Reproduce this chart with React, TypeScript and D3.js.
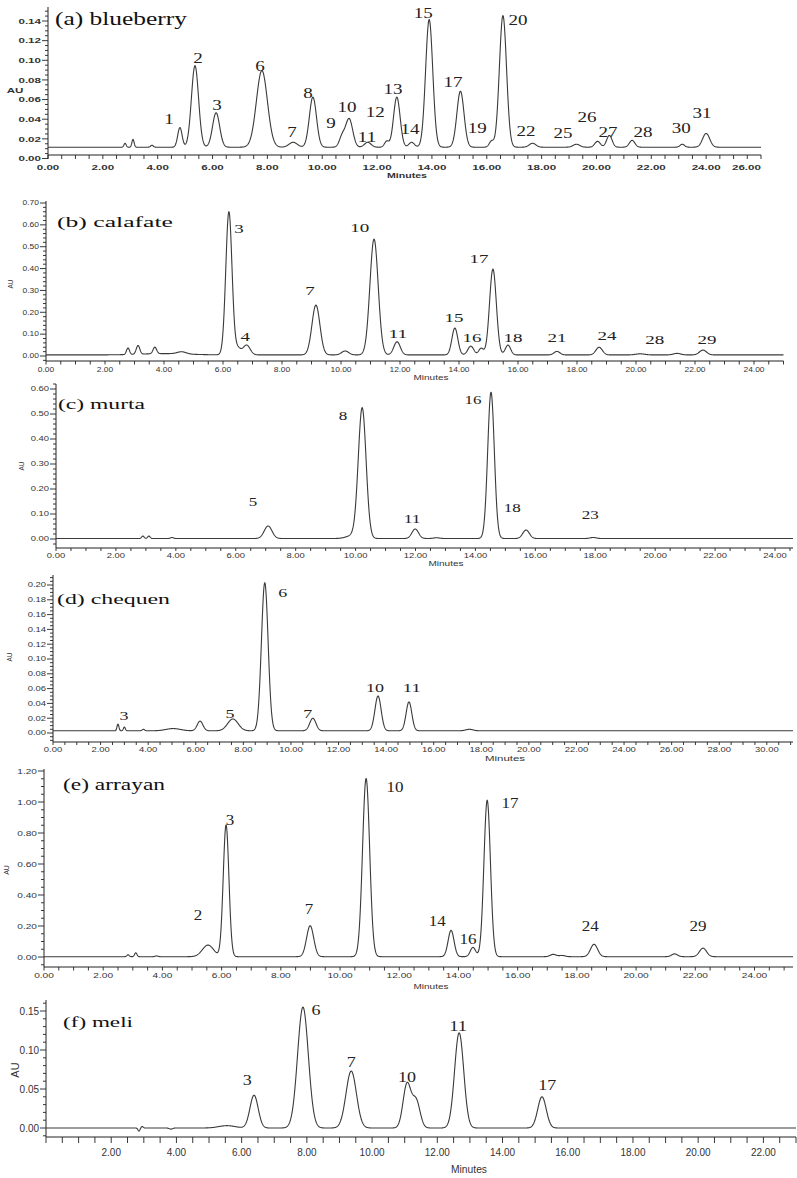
import * as d3 from 'd3';

// [retention time (min), height above baseline (AU), peak sigma (min)]
type Peak = [number, number, number];
// [peak number, time (min), AU]
type PeakLabel = [string, number, number];

// (a) blueberry
const blueberryPeaks: Peak[] = [
  [2.81, 0.004, 0.04], [3.1, 0.008, 0.04], [3.79, 0.002, 0.05],
  [4.81, 0.02, 0.08], [5.36, 0.083, 0.13], [6.13, 0.035, 0.13],
  [7.8, 0.078, 0.2], [8.94, 0.005, 0.15], [9.66, 0.051, 0.13],
  [10.72, 0.01, 0.1], [10.98, 0.029, 0.13], [11.66, 0.005, 0.12],
  [12.35, 0.006, 0.08], [12.72, 0.051, 0.12], [13.26, 0.005, 0.1],
  [13.9, 0.13, 0.13], [15.04, 0.057, 0.13], [16.17, 0.006, 0.08],
  [16.59, 0.134, 0.13], [17.67, 0.004, 0.12], [19.27, 0.003, 0.12],
  [20.04, 0.006, 0.1], [20.47, 0.012, 0.1], [21.3, 0.007, 0.1],
  [23.13, 0.003, 0.08], [24.0, 0.014, 0.13],
];
const blueberryLabels: PeakLabel[] = [
  ['1', 4.41, 0.04], ['2', 5.47, 0.102], ['3', 6.16, 0.054], ['6', 7.73, 0.094],
  ['7', 8.9, 0.027], ['8', 9.48, 0.067], ['9', 10.32, 0.036], ['10', 10.9, 0.052],
  ['11', 11.63, 0.022], ['12', 11.93, 0.047], ['13', 12.58, 0.071], ['14', 13.2, 0.03],
  ['15', 13.68, 0.148], ['17', 14.77, 0.078], ['19', 15.65, 0.031], ['20', 17.14, 0.141],
  ['22', 17.43, 0.028], ['25', 18.78, 0.026], ['26', 19.66, 0.042], ['27', 20.42, 0.027],
  ['28', 21.7, 0.027], ['30', 23.09, 0.031], ['31', 23.85, 0.046],
];

// (b) calafate
const calafatePeaks: Peak[] = [
  [2.78, 0.03, 0.05], [3.12, 0.04, 0.06], [3.69, 0.03, 0.06], [4.0, 0.006, 0.8],
  [4.6, 0.01, 0.15], [6.2, 0.655, 0.105], [6.5, 0.03, 0.1], [6.8, 0.045, 0.12],
  [9.15, 0.228, 0.135], [10.14, 0.018, 0.12], [11.12, 0.53, 0.14], [11.9, 0.06, 0.11],
  [13.86, 0.123, 0.1], [14.4, 0.04, 0.1], [14.75, 0.03, 0.08], [15.15, 0.393, 0.115],
  [15.66, 0.045, 0.09], [17.32, 0.016, 0.1], [18.75, 0.035, 0.11], [20.14, 0.005, 0.15],
  [21.39, 0.007, 0.12], [22.27, 0.022, 0.12],
];
const calafateLabels: PeakLabel[] = [
  ['3', 6.54, 0.581], ['4', 6.75, 0.087], ['7', 8.95, 0.297], ['10', 10.64, 0.586],
  ['11', 11.93, 0.101], ['15', 13.83, 0.174], ['16', 14.44, 0.082], ['17', 14.68, 0.444],
  ['18', 15.83, 0.082], ['21', 17.32, 0.082], ['24', 19.02, 0.091], ['28', 20.64, 0.073],
  ['29', 22.41, 0.073],
];

// (c) murta
const murtaPeaks: Peak[] = [
  [2.9, 0.01, 0.04], [3.1, 0.01, 0.04], [3.87, 0.004, 0.05], [7.08, 0.05, 0.13],
  [9.9, 0.012, 0.2], [10.22, 0.52, 0.13], [11.99, 0.038, 0.11], [12.7, 0.003, 0.1],
  [14.52, 0.585, 0.11], [15.69, 0.034, 0.11], [17.93, 0.004, 0.1],
];
const murtaLabels: PeakLabel[] = [
  ['5', 6.58, 0.148], ['8', 9.58, 0.492], ['11', 11.89, 0.08], ['16', 13.92, 0.556],
  ['18', 15.23, 0.124], ['23', 17.83, 0.096],
];

// (d) chequen
const chequenPeaks: Peak[] = [
  [2.73, 0.009, 0.04], [3.0, 0.005, 0.04], [3.8, 0.002, 0.05], [5.05, 0.003, 0.3],
  [6.18, 0.013, 0.12], [7.56, 0.016, 0.22], [8.9, 0.2, 0.14], [10.92, 0.017, 0.13],
  [13.66, 0.047, 0.13], [14.96, 0.039, 0.12], [17.5, 0.002, 0.15],
];
const chequenLabels: PeakLabel[] = [
  ['3', 2.98, 0.024], ['5', 7.44, 0.027], ['6', 9.66, 0.19], ['7', 10.71, 0.027],
  ['10', 13.53, 0.061], ['11', 15.08, 0.062],
];

// (e) arrayan
const arrayanPeaks: Peak[] = [
  [2.84, 0.012, 0.04], [3.1, 0.025, 0.04], [3.8, 0.005, 0.05], [5.54, 0.075, 0.19],
  [6.15, 0.85, 0.096], [8.99, 0.2, 0.12], [10.88, 1.15, 0.12], [13.75, 0.17, 0.1],
  [14.49, 0.06, 0.09], [14.97, 1.01, 0.11], [17.2, 0.015, 0.1], [17.5, 0.008, 0.1],
  [18.58, 0.08, 0.12], [21.3, 0.018, 0.1], [22.26, 0.055, 0.12],
];
const arrayanLabels: PeakLabel[] = [
  ['2', 5.2, 0.271], ['3', 6.28, 0.884], ['7', 8.95, 0.31], ['10', 11.86, 1.097],
  ['14', 13.28, 0.232], ['16', 14.32, 0.116], ['17', 15.74, 0.994], ['24', 18.45, 0.2],
  ['29', 22.09, 0.2],
];

// (f) meli
const meliPeaks: Peak[] = [
  [2.85, -0.004, 0.03], [2.95, 0.002, 0.03], [3.83, -0.0015, 0.05], [5.55, 0.003, 0.25],
  [6.38, 0.042, 0.126], [7.88, 0.155, 0.165], [9.36, 0.073, 0.16], [11.07, 0.056, 0.12],
  [11.35, 0.035, 0.12], [12.67, 0.122, 0.14], [15.21, 0.04, 0.13],
];
const meliLabels: PeakLabel[] = [
  ['3', 6.17, 0.062], ['6', 8.28, 0.151], ['7', 9.36, 0.085], ['10', 11.07, 0.065],
  ['11', 12.64, 0.131], ['17', 15.37, 0.055],
];

interface Panel {
  title: string;
  peaks: Peak[];
  labels: PeakLabel[];
  baseline: number;
  tMax: number;
  yMax: number;
  yStep: number;
  yMinor: number;
  firstX: number;
  left: number;
  right: number;
  yZero: number;
  yTopPx: number;
  axisTop: number;
  axisY: number;
  xTickLen: number;
  xLabelDy: number;
  tickFont: number;
  tickSx: number;
  tickBold: boolean;
  titleX: number;
  titleY: number;
  titleFont: number;
  titleLen: number;
  labelFont: number;
  digitW: number;
  au: [number, number, number, boolean];
  minutes: [number, number, number, number];
}

const panels: Panel[] = [
  {
    title: '(a) blueberry', peaks: blueberryPeaks, labels: blueberryLabels, baseline: 0.0115,
    tMax: 26, yMax: 0.14, yStep: 0.02, yMinor: 0.005, firstX: 0,
    left: 48, right: 761, yZero: 158.5, yTopPx: 21, axisTop: 7, axisY: 155, xTickLen: 4, xLabelDy: 12,
    tickFont: 8, tickSx: 1.45, tickBold: true,
    titleX: 55, titleY: 25, titleFont: 19, titleLen: 132, labelFont: 14, digitW: 9.5,
    au: [15, 90, 8, false], minutes: [407, 175, 7.5, 40],
  },
  {
    title: '(b) calafate', peaks: calafatePeaks, labels: calafateLabels, baseline: 0.005,
    tMax: 25, yMax: 0.7, yStep: 0.1, yMinor: 0.02, firstX: 0,
    left: 46, right: 783.5, yZero: 356, yTopPx: 203, axisTop: 201, axisY: 361, xTickLen: 3.5, xLabelDy: 9,
    tickFont: 6.5, tickSx: 1.3, tickBold: false,
    titleX: 57, titleY: 227, titleFont: 15.5, titleLen: 116, labelFont: 12.5, digitW: 9.5,
    au: [11, 284, 6.5, true], minutes: [431, 378, 6.5, 35],
  },
  {
    title: '(c) murta', peaks: murtaPeaks, labels: murtaLabels, baseline: 0.002,
    tMax: 24.6, yMax: 0.6, yStep: 0.1, yMinor: 0.02, firstX: 0,
    left: 56, right: 793, yZero: 539, yTopPx: 389, axisTop: 384, axisY: 548, xTickLen: 3, xLabelDy: 8,
    tickFont: 7, tickSx: 1.35, tickBold: false,
    titleX: 58, titleY: 409, titleFont: 15, titleLen: 87, labelFont: 12.5, digitW: 8.5,
    au: [22, 466, 6.5, true], minutes: [446, 564, 6.5, 35],
  },
  {
    title: '(d) chequen', peaks: chequenPeaks, labels: chequenLabels, baseline: 0.003,
    tMax: 31.1, yMax: 0.2, yStep: 0.02, yMinor: 0.005, firstX: 0,
    left: 53, right: 793, yZero: 733, yTopPx: 585, axisTop: 575, axisY: 742, xTickLen: 3, xLabelDy: 7.5,
    tickFont: 7, tickSx: 1.35, tickBold: false,
    titleX: 57, titleY: 604, titleFont: 15, titleLen: 113, labelFont: 13, digitW: 9,
    au: [10, 657, 6.5, true], minutes: [505, 759, 6.5, 40],
  },
  {
    title: '(e) arrayan', peaks: arrayanPeaks, labels: arrayanLabels, baseline: 0.002,
    tMax: 25.3, yMax: 1.2, yStep: 0.2, yMinor: 0.05, firstX: 0,
    left: 44, right: 793, yZero: 957, yTopPx: 771, axisTop: 769, axisY: 967, xTickLen: 3.5, xLabelDy: 8,
    tickFont: 7.5, tickSx: 1.35, tickBold: false,
    titleX: 63, titleY: 790, titleFont: 16, titleLen: 102, labelFont: 14.5, digitW: 8.5,
    au: [7, 870, 7, true], minutes: [431, 987, 6.5, 35],
  },
  {
    title: '(f) meli', peaks: meliPeaks, labels: meliLabels, baseline: 0,
    tMax: 23, yMax: 0.15, yStep: 0.05, yMinor: 0.01, firstX: 2,
    left: 46, right: 796, yZero: 1128, yTopPx: 1011, axisTop: 1000, axisY: 1137, xTickLen: 6, xLabelDy: 15,
    tickFont: 10.5, tickSx: 0.95, tickBold: false,
    titleX: 63, titleY: 1027, titleFont: 15, titleLen: 70, labelFont: 14, digitW: 9,
    au: [15, 1070, 11, true], minutes: [469, 1169, 11, 36],
  },
];

const INK = '#222';
const SANS = "'Liberation Sans', Arial, sans-serif";
const SERIF = "'Liberation Serif', 'Times New Roman', serif";
const fmt = d3.format('.2f');

function stepRange(lo: number, hi: number, step: number) {
  return d3
    .range(Math.ceil(lo / step - 1e-6), Math.floor(hi / step + 1e-6) + 1)
    .map((i) => i * step);
}

function Chromatogram({ p }: { p: Panel }) {
  const x = d3.scaleLinear().domain([0, p.tMax]).range([p.left, p.right]);
  const y = d3.scaleLinear().domain([0, p.yMax]).range([p.yZero, p.yTopPx]);

  const signal = (t: number) =>
    p.baseline +
    d3.sum(p.peaks, ([rt, h, s]) => h * Math.exp(-((t - rt) ** 2) / (2 * s * s)));
  const times = d3.range(0, p.tMax + 1e-9, 0.01);
  const line = d3
    .line<number>()
    .x((t) => x(t))
    .y((t) => y(signal(t)));

  const yLo = y.invert(Math.max(p.axisY, p.yZero));
  const yHi = y.invert(p.axisTop);
  const yTicks = stepRange(yLo, yHi, p.yMinor);
  const isMajorY = (v: number) => Math.abs(v / p.yStep - Math.round(v / p.yStep)) < 1e-6;

  const xTicks = stepRange(0, p.tMax, 0.5);
  const isMajorX = (t: number) => Math.abs(t / 2 - Math.round(t / 2)) < 1e-6;

  const weight = p.tickBold ? 'bold' : 'normal';

  return (
    <g>
      {/* axes */}
      <line x1={p.left} x2={p.left} y1={p.axisTop} y2={Math.max(p.axisY, p.yZero)} stroke={INK} strokeWidth={1} />
      <line x1={p.left} x2={p.right} y1={p.axisY} y2={p.axisY} stroke={INK} strokeWidth={1} />

      {yTicks.map((v, i) => {
        const major = isMajorY(v) && v >= -1e-9;
        const yy = y(v);
        return (
          <g key={'y' + i}>
            <line x1={p.left - (major ? 6 : 3)} x2={p.left} y1={yy} y2={yy} stroke={INK} strokeWidth={0.9} />
            {major && (
              <text
                transform={`translate(${p.left - 7},${yy}) scale(${p.tickSx},1)`}
                textAnchor="end"
                dy="0.35em"
                fontFamily={SANS}
                fontSize={p.tickFont}
                fontWeight={weight}
                fill="#333"
              >
                {fmt(Math.abs(v) < 1e-9 ? 0 : v)}
              </text>
            )}
          </g>
        );
      })}

      {xTicks.map((t, i) => {
        const major = isMajorX(t);
        const xx = x(t);
        const atEnd = x(p.tMax) - xx < 4;
        return (
          <g key={'x' + i}>
            <line x1={xx} x2={xx} y1={p.axisY} y2={p.axisY + p.xTickLen} stroke={INK} strokeWidth={0.9} />
            {major && t >= p.firstX && (
              <text
                transform={`translate(${atEnd ? p.right : xx},${p.axisY + p.xLabelDy}) scale(${p.tickSx},1)`}
                textAnchor={atEnd ? 'end' : 'middle'}
                dy="0.35em"
                fontFamily={SANS}
                fontSize={p.tickFont}
                fontWeight={weight}
                fill="#333"
              >
                {fmt(t)}
              </text>
            )}
          </g>
        );
      })}

      {/* trace */}
      <path d={line(times) ?? ''} fill="none" stroke="#3a3a3a" strokeWidth={1.1} strokeLinejoin="round" />

      {/* peak numbers */}
      {p.labels.map(([name, t, v]) => {
        const len = name.length * p.digitW;
        return (
          <text
            key={'l' + name}
            x={x(t) - len / 2}
            y={y(v)}
            dy="0.35em"
            textLength={len}
            lengthAdjust="spacingAndGlyphs"
            fontFamily={SERIF}
            fontSize={p.labelFont}
            fill="#222"
          >
            {name}
          </text>
        );
      })}

      {/* title */}
      <text
        x={p.titleX}
        y={p.titleY}
        textLength={p.titleLen}
        lengthAdjust="spacingAndGlyphs"
        fontFamily={SERIF}
        fontSize={p.titleFont}
        fill="#111"
      >
        {p.title}
      </text>

      {/* AU */}
      <text
        transform={
          p.au[3]
            ? `translate(${p.au[0]},${p.au[1]}) rotate(-90)`
            : `translate(${p.au[0]},${p.au[1]}) scale(${p.tickSx},1)`
        }
        textAnchor="middle"
        dy="0.35em"
        fontFamily={SANS}
        fontSize={p.au[2]}
        fontWeight={weight}
        fill="#333"
      >
        AU
      </text>

      {/* Minutes */}
      <text
        x={p.minutes[0] - p.minutes[3] / 2}
        y={p.minutes[1]}
        dy="0.35em"
        textLength={p.minutes[3]}
        lengthAdjust="spacingAndGlyphs"
        fontFamily={SANS}
        fontSize={p.minutes[2]}
        fontWeight={weight}
        fill="#333"
      >
        Minutes
      </text>
    </g>
  );
}

export default function App() {
  return (
    <svg
      width={797}
      height={1178}
      viewBox="0 0 797 1178"
      style={{ position: 'absolute', left: 0, top: 0, background: '#fff', display: 'block' }}
    >
      <rect width={797} height={1178} fill="#fff" />
      {panels.map((p) => (
        <Chromatogram key={p.title} p={p} />
      ))}
    </svg>
  );
}
